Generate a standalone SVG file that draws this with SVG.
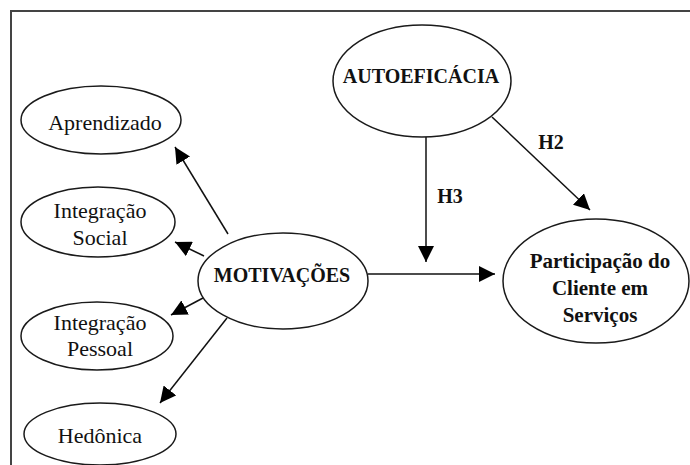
<svg xmlns="http://www.w3.org/2000/svg" width="690" height="465" viewBox="0 0 690 465" font-family="'Liberation Serif', 'DejaVu Serif', serif">
<defs>
<style>
.n ellipse{fill:#fff;stroke:#1a1a1a;stroke-width:1.5}
text{fill:#111;text-anchor:middle}
.r{font-size:22px}
.b{font-size:20px;font-weight:bold}
.p{font-size:21px;font-weight:bold}
.c line{stroke:#111;stroke-width:1.5;marker-end:url(#ah)}
</style>
<marker id="ah" viewBox="0 0 16 16" refX="16" refY="8" markerWidth="16" markerHeight="16" markerUnits="userSpaceOnUse" orient="auto">
<path d="M0,0 L16,8 L0,16 z" fill="#000"/>
</marker>
</defs>
<rect width="690" height="465" fill="#fff"/>
<path d="M11,465 V11 H690" fill="none" stroke="#444" stroke-width="2"/>
<g class="c" id="connectors">
<line x1="228" y1="234" x2="175" y2="147"/>
<line x1="204" y1="256" x2="175" y2="242"/>
<line x1="203" y1="298" x2="171" y2="315"/>
<line x1="227" y1="318" x2="160" y2="403"/>
<line x1="368" y1="274" x2="495" y2="274"/>
<line x1="426" y1="137" x2="426" y2="262"/>
<line x1="492" y1="117" x2="590" y2="210"/>
<text class="b" x="551" y="149">H2</text>
<text class="b" x="450" y="203">H3</text>
</g>
<g class="n" id="aprendizado"><ellipse cx="101" cy="120" rx="80" ry="34"/><text class="r" x="105" y="130">Aprendizado</text></g>
<g class="n" id="integracao-social"><ellipse cx="98" cy="222" rx="77" ry="35"/><text class="r" x="100" y="218">Integração</text><text class="r" x="100" y="245">Social</text></g>
<g class="n" id="integracao-pessoal"><ellipse cx="97" cy="336" rx="76" ry="34"/><text class="r" x="100" y="330">Integração</text><text class="r" x="100" y="356">Pessoal</text></g>
<g class="n" id="hedonica"><ellipse cx="100" cy="434" rx="76" ry="31"/><text class="r" x="100" y="443">Hedônica</text></g>
<g class="n" id="motivacoes"><ellipse cx="283" cy="281" rx="85" ry="48"/><text class="b" x="282" y="282">MOTIVAÇÕES</text></g>
<g class="n" id="autoeficacia"><ellipse cx="422" cy="81" rx="89" ry="56"/><text class="b" x="421" y="83">AUTOEFICÁCIA</text></g>
<g class="n" id="participacao"><ellipse cx="596" cy="281" rx="93" ry="62"/><text class="p" x="600" y="268">Participação do</text><text class="p" x="600" y="295">Cliente em</text><text class="p" x="600" y="322">Serviços</text></g>
</svg>
